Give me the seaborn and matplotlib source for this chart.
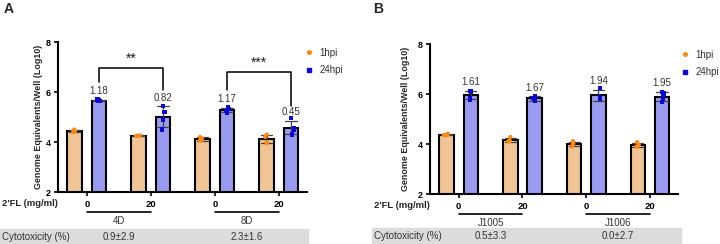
import numpy as np
import pandas as pd
import matplotlib.pyplot as plt
import seaborn as sns
from matplotlib.lines import Line2D
from matplotlib.patches import Rectangle
import matplotlib.transforms as mtransforms

# ---- data ----
doses = ["0", "20", "0", "20"]
times = ["1hpi", "24hpi"]

a_strains = ["4D", "8D"]
a_1hpi = [[4.50, 4.42, 4.40, 4.42], [4.27, 4.24, 4.24, 4.25],
          [4.20, 4.15, 4.05, 4.08], [4.30, 4.20, 3.95, 4.00]]
a_24hpi = [[5.70, 5.65, 5.63, 5.66], [5.45, 5.20, 4.90, 4.50],
           [5.38, 5.32, 5.18, 5.25], [4.95, 4.55, 4.50, 4.30]]
a_fold = ["1.18", "0.82", "1.17", "0.45"]
a_cyto = ["0.9\u00b12.9", "2.3\u00b11.6"]

b_strains = ["J1005", "J1006"]
b_1hpi = [[4.42, 4.38, 4.35, 4.36], [4.28, 4.12, 4.10, 4.12],
          [4.12, 4.02, 3.90, 3.98], [4.08, 3.98, 3.88, 3.90]]
b_24hpi = [[6.12, 6.08, 5.78, 5.84], [5.92, 5.85, 5.72, 5.80],
           [6.25, 5.88, 5.80, 5.85], [6.08, 6.02, 5.68, 5.82]]
b_fold = ["1.61", "1.67", "1.94", "1.95"]
b_cyto = ["0.5\u00b13.3", "0.0\u00b12.7"]

bar_colors = {"1hpi": "#FFC585", "24hpi": "#8C8CFF"}
pt_colors = {"1hpi": "#FF8811", "24hpi": "#0A0AD8"}


def make_df(p1, p24):
    rows = []
    for g in range(4):
        for v in p1[g]:
            rows.append((f"g{g}", "1hpi", v))
        for v in p24[g]:
            rows.append((f"g{g}", "24hpi", v))
    return pd.DataFrame(rows, columns=["grp", "time", "val"])


sns.set_theme(style="ticks")
plt.rcParams["font.family"] = ["Liberation Sans", "DejaVu Sans"]
np.random.seed(3)

fig = plt.figure(figsize=(7.2, 2.44), dpi=100)
axA = fig.add_axes([58 / 720, 52 / 244, 249 / 720, 150 / 244])
axB = fig.add_axes([430 / 720, 50 / 244, 248 / 720, 150 / 244])

order = ["g0", "g1", "g2", "g3"]


def draw_panel(ax, df, p24, fold, strains, cyto, ylabelpad, cyto_y, leg_x):
    sns.barplot(data=df, x="grp", y="val", hue="time", order=order,
                hue_order=times, palette=bar_colors, estimator="mean",
                errorbar="sd", width=0.76, gap=0.4, edgecolor="black",
                linewidth=1.5, capsize=0.35, legend=False,
                err_kws={"color": "#444444", "linewidth": 0.9}, ax=ax)
    for t, m in zip(times, ["o", "s"]):
        sns.stripplot(data=df[df.time == t], x="grp", y="val", hue="time",
                      order=order, hue_order=times, dodge=True, jitter=0.07,
                      palette=pt_colors, marker=m, size=3.0, legend=False,
                      ax=ax)
    # fold labels above 24hpi bars
    for g in range(4):
        top = np.mean(p24[g]) + np.std(p24[g], ddof=1)
        ax.text(g + 0.19, top + 0.15, fold[g], ha="center", va="bottom",
                fontsize=7, color="#333333")
    ax.set_ylim(2, 8)
    ax.set_xlim(-0.45, 3.44)
    ax.set_yticks([2, 4, 6, 8])
    ax.set_xticks(range(4))
    ax.set_xticklabels(doses, fontsize=6.8, fontweight="bold")
    for lab in ax.get_yticklabels():
        lab.set_fontsize(6.5)
        lab.set_fontweight("bold")
    ax.tick_params(axis="both", length=3, width=1.2, pad=2, colors="black")
    ax.tick_params(axis="x", pad=3)
    ax.set_xlabel("")
    ax.set_ylabel("Genome Equivalents/Well (Log10)", fontsize=6.4,
                  fontweight="bold", labelpad=ylabelpad)
    for s in ["left", "bottom"]:
        ax.spines[s].set_linewidth(1.5)
        ax.spines[s].set_color("black")
    sns.despine(ax=ax)
    trans = mtransforms.blended_transform_factory(ax.transData, ax.transAxes)
    ftrans = mtransforms.blended_transform_factory(ax.transData,
                                                  fig.transFigure)
    for i, st in enumerate(strains):
        x0, x1 = 2 * i, 2 * i + 1
        ax.plot([x0, x1], [-0.135, -0.135], color="black", lw=1.2,
                transform=trans, clip_on=False)
        ax.text((x0 + x1) / 2, -0.19, st, ha="center", va="center",
                fontsize=7, color="#333333", transform=trans)
        ax.text((x0 + x1) / 2, cyto_y, cyto[i], ha="center", va="center",
                fontsize=7, color="#333333", transform=ftrans)
    handles = [Line2D([], [], marker="o", ls="", color=pt_colors["1hpi"],
                      markersize=2.6),
               Line2D([], [], marker="s", ls="", color=pt_colors["24hpi"],
                      markersize=2.6)]
    ax.legend(handles, times, frameon=False, loc="upper left",
              bbox_to_anchor=(leg_x, 1.02), fontsize=7, handletextpad=0.5,
              labelspacing=0.75, handlelength=1.0, labelcolor="#333333")


draw_panel(axA, make_df(a_1hpi, a_24hpi), a_24hpi, a_fold, a_strains,
           a_cyto, 2, 1 - 237 / 244, 0.955)
draw_panel(axB, make_df(b_1hpi, b_24hpi), b_24hpi, b_fold, b_strains,
           b_cyto, 6, 1 - 236 / 244, 0.975)

# significance brackets in panel A
for (x0, x1, top, l0, l1, star) in [(0.19, 1.19, 6.96, 6.42, 6.08, "**"),
                                     (2.19, 3.19, 6.80, 6.10, 5.43, "***")]:
    axA.plot([x0, x0, x1, x1], [l0, top, top, l1], color="black", lw=1.1,
             clip_on=False)
    axA.text((x0 + x1) / 2, top + 0.08, star, ha="center", va="bottom",
             fontsize=10, color="#222222")

# cytotoxicity bands and row labels
fig.patches.append(Rectangle((0, 0), 308 / 720, 15 / 244, color="#DCDCDC",
                             transform=fig.transFigure, zorder=-1))
fig.patches.append(Rectangle((372 / 720, 0), 309 / 720, 16 / 244,
                             color="#DCDCDC", transform=fig.transFigure,
                             zorder=-1))
fig.text(2 / 720, 1 - 237 / 244, "Cytotoxicity (%)", fontsize=7,
         va="center", color="#333333")
fig.text(374 / 720, 1 - 236 / 244, "Cytotoxicity (%)", fontsize=7,
         va="center", color="#333333")
fig.text(2 / 720, 1 - 204 / 244, "2'FL (mg/ml)", fontsize=6.8,
         fontweight="bold", va="center")
fig.text(374 / 720, 1 - 206 / 244, "2'FL (mg/ml)", fontsize=6.8,
         fontweight="bold", va="center")
fig.text(4 / 720, 1 - 9 / 244, "A", fontsize=10, fontweight="bold",
         va="center")
fig.text(373 / 720, 1 - 9 / 244, "B", fontsize=10, fontweight="bold",
         va="center")

fig.savefig("out.png", dpi=100)
